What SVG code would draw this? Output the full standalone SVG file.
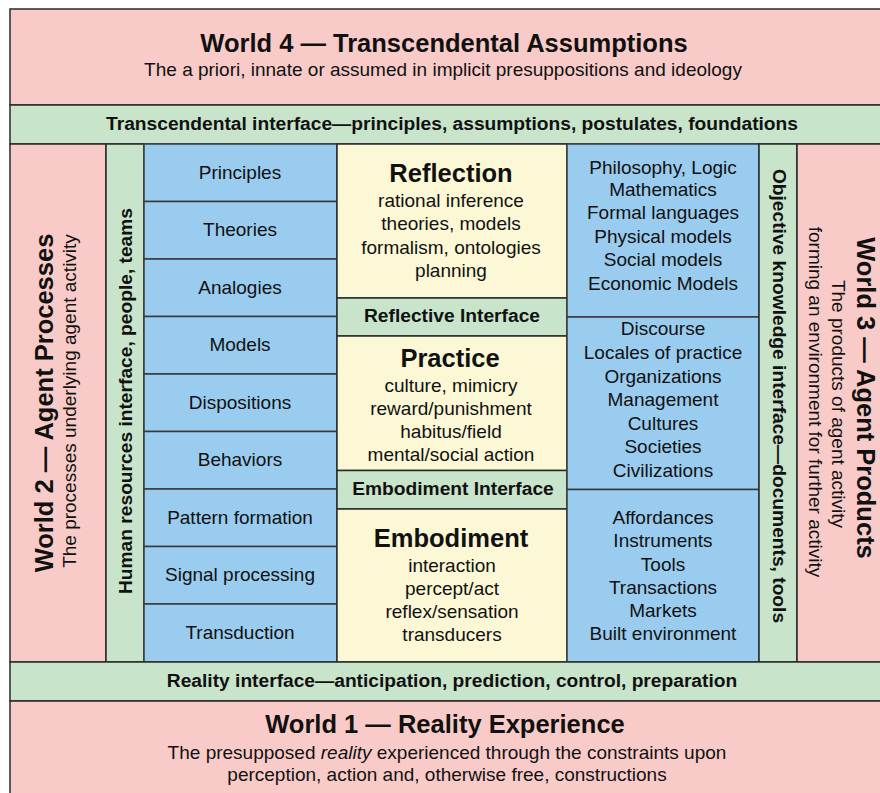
<svg xmlns="http://www.w3.org/2000/svg" width="880" height="793" viewBox="0 0 880 793">
<style>
text{font-family:"Liberation Sans",Arial,Helvetica,sans-serif;fill:#111;text-anchor:middle}
.t{font-size:25.5px;font-weight:bold}
.s{font-size:19px}
.i{font-size:19.2px;font-weight:bold}
.red{fill:#F8CBC8;stroke:#2a2a2a;stroke-width:1.5}
.grn{fill:#C8E4CA;stroke:#2a2a2a;stroke-width:1.5}
.blu{fill:#99CCEE;stroke:#3a3a3a;stroke-width:1.5}
.yel{fill:#FCF8D5;stroke:#2a2a2a;stroke-width:1.5}
</style>
<rect x="0" y="0" width="880" height="793" fill="#fff"/>
<g id="world4">
<rect class="red" x="10" y="9" width="890" height="96"/>
<text class="t" x="444" y="52">World 4 — Transcendental Assumptions</text>
<text class="s" x="443" y="76">The a priori, innate or assumed in implicit presuppositions and ideology</text>
</g>
<g id="transcendental-interface">
<rect class="grn" x="10" y="105" width="890" height="39"/>
<text class="i" x="452" y="130">Transcendental interface—principles, assumptions, postulates, foundations</text>
</g>
<g id="world2">
<rect class="red" x="10" y="144" width="96" height="518"/>
<text class="t" transform="translate(53,403) rotate(-90)">World 2 — Agent Processes</text>
<text class="s" transform="translate(76,401) rotate(-90)">The processes underlying agent activity</text>
</g>
<g id="hr-interface">
<rect class="grn" x="106" y="144" width="38" height="518"/>
<text class="i" transform="translate(132,401) rotate(-90)">Human resources interface, people, teams</text>
</g>
<g id="left-column">
<g id="principles"><rect class="blu" x="144" y="144" width="193" height="57.5"/><text class="s" x="240" y="178.5">Principles</text></g>
<g id="theories"><rect class="blu" x="144" y="201.5" width="193" height="57.5"/><text class="s" x="240" y="236">Theories</text></g>
<g id="analogies"><rect class="blu" x="144" y="259" width="193" height="57.5"/><text class="s" x="240" y="293.5">Analogies</text></g>
<g id="models"><rect class="blu" x="144" y="316.5" width="193" height="57.5"/><text class="s" x="240" y="351">Models</text></g>
<g id="dispositions"><rect class="blu" x="144" y="374" width="193" height="57.5"/><text class="s" x="240" y="408.5">Dispositions</text></g>
<g id="behaviors"><rect class="blu" x="144" y="431.5" width="193" height="57.5"/><text class="s" x="240" y="466">Behaviors</text></g>
<g id="pattern-formation"><rect class="blu" x="144" y="489" width="193" height="57.5"/><text class="s" x="240" y="523.5">Pattern formation</text></g>
<g id="signal-processing"><rect class="blu" x="144" y="546.5" width="193" height="57.5"/><text class="s" x="240" y="581">Signal processing</text></g>
<g id="transduction"><rect class="blu" x="144" y="604" width="193" height="58"/><text class="s" x="240" y="639">Transduction</text></g>
</g>
<g id="reflection">
<rect class="yel" x="337" y="144" width="230" height="154"/>
<text class="t" x="451" y="182">Reflection</text>
<text class="s" x="451" y="206.5">rational inference</text>
<text class="s" x="451" y="230">theories, models</text>
<text class="s" x="451" y="253.5">formalism, ontologies</text>
<text class="s" x="451" y="277">planning</text>
</g>
<g id="reflective-interface">
<rect class="grn" x="337" y="298" width="230" height="38"/>
<text class="i" x="452" y="322">Reflective Interface</text>
</g>
<g id="practice">
<rect class="yel" x="337" y="336" width="230" height="134.5"/>
<text class="t" x="450" y="367">Practice</text>
<text class="s" x="451" y="391.5">culture, mimicry</text>
<text class="s" x="451" y="415">reward/punishment</text>
<text class="s" x="451" y="438">habitus/field</text>
<text class="s" x="451" y="461">mental/social action</text>
</g>
<g id="embodiment-interface">
<rect class="grn" x="337" y="470.5" width="230" height="38.5"/>
<text class="i" x="453" y="495">Embodiment Interface</text>
</g>
<g id="embodiment">
<rect class="yel" x="337" y="509" width="230" height="153"/>
<text class="t" x="451" y="547">Embodiment</text>
<text class="s" x="452" y="572">interaction</text>
<text class="s" x="452" y="594.5">percept/act</text>
<text class="s" x="452" y="618">reflex/sensation</text>
<text class="s" x="452" y="641">transducers</text>
</g>
<g id="formal-products">
<rect class="blu" x="567" y="144" width="192" height="173"/>
<text class="s" x="663" y="173.5">Philosophy, Logic</text>
<text class="s" x="663" y="195.5">Mathematics</text>
<text class="s" x="663" y="219">Formal languages</text>
<text class="s" x="663" y="242.5">Physical models</text>
<text class="s" x="663" y="266">Social models</text>
<text class="s" x="663" y="289.5">Economic Models</text>
</g>
<g id="social-products">
<rect class="blu" x="567" y="317" width="192" height="172.5"/>
<text class="s" x="663" y="335">Discourse</text>
<text class="s" x="663" y="358.5">Locales of practice</text>
<text class="s" x="663" y="382.5">Organizations</text>
<text class="s" x="663" y="406">Management</text>
<text class="s" x="663" y="429.5">Cultures</text>
<text class="s" x="663" y="453">Societies</text>
<text class="s" x="663" y="477">Civilizations</text>
</g>
<g id="material-products">
<rect class="blu" x="567" y="489.5" width="192" height="172.5"/>
<text class="s" x="663" y="524">Affordances</text>
<text class="s" x="663" y="547">Instruments</text>
<text class="s" x="663" y="571">Tools</text>
<text class="s" x="663" y="593.5">Transactions</text>
<text class="s" x="663" y="617">Markets</text>
<text class="s" x="663" y="640">Built environment</text>
</g>
<g id="objective-interface">
<rect class="grn" x="759" y="144" width="38" height="518"/>
<text class="i" transform="translate(773,396) rotate(90)">Objective knowledge interface—documents, tools</text>
</g>
<g id="world3">
<rect class="red" x="797" y="144" width="100" height="518"/>
<text class="t" transform="translate(857,398) rotate(90)">World 3 — Agent Products</text>
<text class="s" transform="translate(832,404) rotate(90)">The products of agent activity</text>
<text class="s" transform="translate(809,402) rotate(90)">forming an environment for further activity</text>
</g>
<g id="reality-interface">
<rect class="grn" x="10" y="662" width="890" height="39"/>
<text class="i" x="452" y="687">Reality interface—anticipation, prediction, control, preparation</text>
</g>
<g id="world1">
<rect class="red" x="10" y="701" width="890" height="110"/>
<text class="t" x="445" y="733">World 1 — Reality Experience</text>
<text class="s" x="447" y="759">The presupposed <tspan font-style="italic">reality</tspan> experienced through the constraints upon</text>
<text class="s" x="447" y="781">perception, action and, otherwise free, constructions</text>
</g>
<g id="connectors"></g>
</svg>
